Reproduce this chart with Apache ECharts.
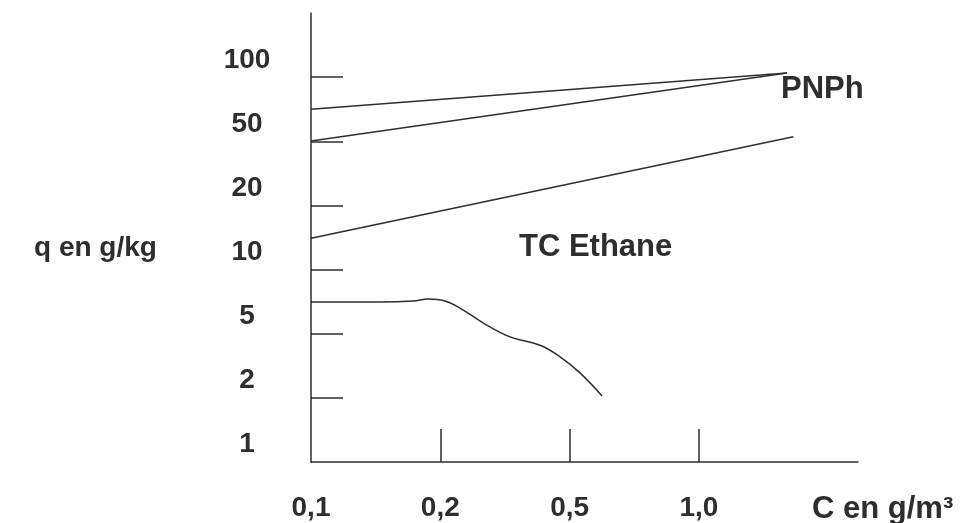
<!DOCTYPE html>
<html>
<head>
<meta charset="utf-8">
<script src="https://cdn.jsdelivr.net/npm/echarts@6/dist/echarts.min.js"></script>
<style>
html,body{margin:0;padding:0;background:#fff;}
#chart{width:971px;height:523px;}
</style>
</head>
<body>
<div id="chart"></div>
<script>
// Axis tick labels (the axes are drawn with evenly spaced graduations)
var xTickLabels = ['0,1', '0,2', '0,5', '1,0'];
var yTickLabels = ['1', '2', '5', '10', '20', '50', '100'];
var xTickPositions = [0, 1, 2, 3];
var yTickPositions = [0, 1, 2, 3, 4, 5, 6];
// the printed y labels sit slightly above their graduation marks
var yLabelLift = 0.27;

// Series, in axis graduation units (x: 0 = 0,1 ... 3 = 1,0 ; y: 0 = 1 ... 6 = 100)
var pnphUpperX = [0, 3.68];
var pnphUpperY = [5.50, 6.065];
var pnphLowerX = [0, 3.68];
var pnphLowerY = [5.005, 6.065];
var tcLineX = [0, 3.73];
var tcLineY = [3.49, 5.07];
var ethaneX = [0, 0.53, 0.79, 0.905, 1.036, 1.152, 1.33, 1.539, 1.771, 1.926, 2.08, 2.251];
var ethaneY = [2.495, 2.495, 2.51, 2.54, 2.51, 2.40, 2.17, 1.95, 1.82, 1.64, 1.39, 1.03];

function pairs(xs, ys) { return xs.map(function (x, i) { return [x, ys[i]]; }); }

var ink = '#2e2e2e';
var fontFam = '"Liberation Sans", Arial, sans-serif';
var lineStyle = { color: ink, width: 1.5 };

var chart = echarts.init(document.getElementById('chart'));
chart.setOption({
  animation: false,
  backgroundColor: '#ffffff',
  grid: { left: 311, right: 113, top: 13, bottom: 61 },
  xAxis: {
    type: 'value', min: 0, max: 4.23,
    splitLine: { show: false },
    axisLine: { show: true, onZero: false, lineStyle: { color: ink, width: 1.5 } },
    axisTick: { show: true, inside: true, length: 33, customValues: [1, 2, 3], lineStyle: { color: ink, width: 1.5 } },
    axisLabel: {
      customValues: xTickPositions,
      formatter: function (v) { return xTickLabels[Math.round(v)]; },
      margin: 46, verticalAlign: 'middle',
      color: ink, fontFamily: fontFam, fontWeight: 'bold', fontSize: 28
    }
  },
  yAxis: {
    type: 'value', min: 0, max: 7,
    splitLine: { show: false },
    axisLine: { show: true, onZero: false, lineStyle: { color: ink, width: 1.5 } },
    axisTick: { show: true, inside: true, length: 32, customValues: [1, 2, 3, 4, 5, 6], lineStyle: { color: ink, width: 1.5 } },
    axisLabel: {
      customValues: yTickPositions.map(function (p) { return p + yLabelLift; }),
      formatter: function (v) { return yTickLabels[Math.floor(v)]; },
      margin: 64, align: 'center', verticalAlign: 'middle',
      color: ink, fontFamily: fontFam, fontWeight: 'bold', fontSize: 28
    }
  },
  graphic: [
    { type: 'text', left: 34, top: 234, style: { text: 'q en g/kg', fill: ink, font: 'bold 28px ' + fontFam } },
    { type: 'text', left: 519, top: 232, style: { text: 'TC Ethane', fill: ink, font: 'bold 31px ' + fontFam } },
    { type: 'text', left: 781, top: 74, style: { text: 'PNPh', fill: ink, font: 'bold 31px ' + fontFam } },
    { type: 'text', left: 812, top: 494, style: { text: 'C en g/m³', fill: ink, font: 'bold 31px ' + fontFam } }
  ],
  series: [
    { type: 'line', data: pairs(pnphUpperX, pnphUpperY), showSymbol: false, lineStyle: lineStyle },
    { type: 'line', data: pairs(pnphLowerX, pnphLowerY), showSymbol: false, lineStyle: lineStyle },
    { type: 'line', data: pairs(tcLineX, tcLineY), showSymbol: false, lineStyle: lineStyle },
    { type: 'line', data: pairs(ethaneX, ethaneY), showSymbol: false, smooth: 0.4, lineStyle: lineStyle }
  ]
});
</script>
</body>
</html>
